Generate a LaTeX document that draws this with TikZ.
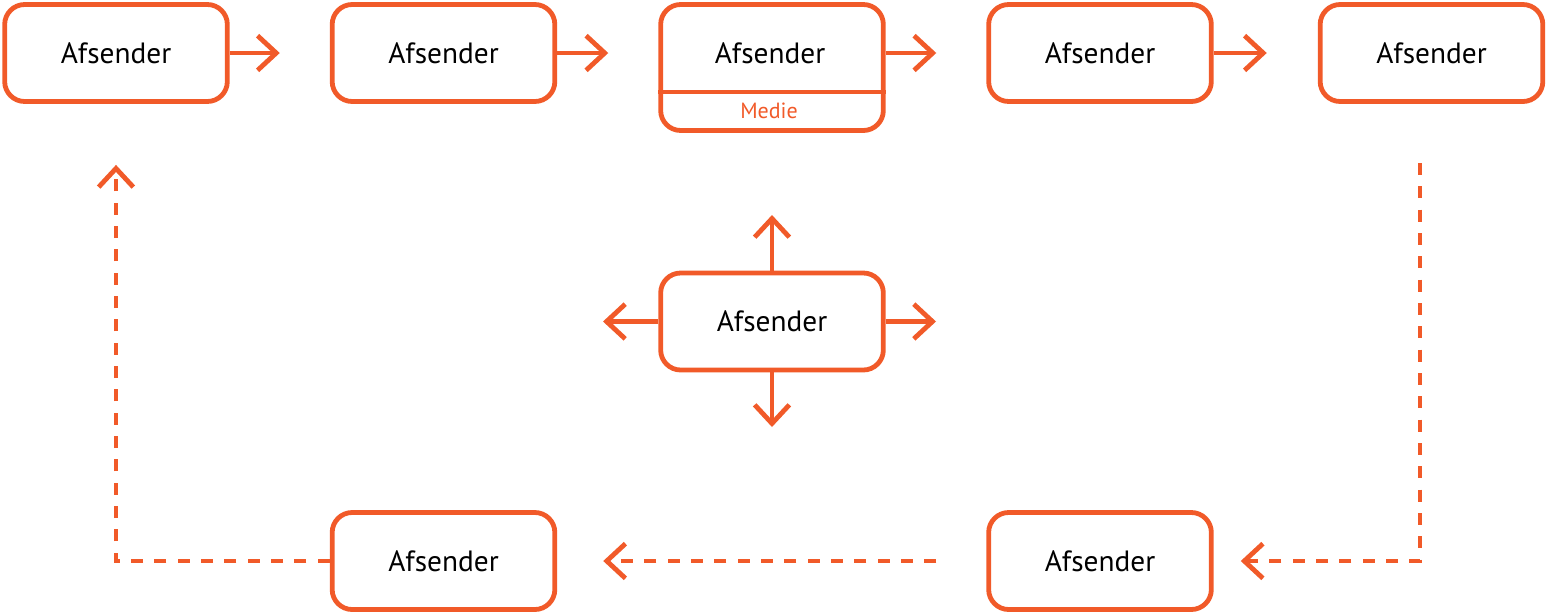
\documentclass[tikz,border=0pt]{standalone}
\usepackage{fontspec}
\setmainfont{PT Sans}
\usetikzlibrary{arrows.meta}
\definecolor{org}{RGB}{241,90,41}
\begin{document}
\begin{tikzpicture}[x=0.75pt,y=-0.75pt,
  box/.style={draw=org, line width=3.6pt, rounded corners=15pt, minimum width=167pt,
    minimum height=72.75pt, inner sep=0pt, font=\fontsize{22}{26}\selectfont, text=black},
  lbl/.style={inner sep=0pt, font=\fontsize{22}{26}\selectfont, text=black},
  medie/.style={inner sep=0pt, font=\fontsize{16.5}{19}\selectfont, text=org},
  conn/.style={draw=org, line width=3.6pt, -{Straight Barb[length=14pt,width=26pt,sharp]}},
  dsh/.style={conn, dash pattern=on 9pt off 8.5pt},
]
\useasboundingbox (0,0) rectangle (1547,615);
% top row
\node[box] (b1) at (116,53) {Afsender};
\node[box] (b2) at (443.5,53) {Afsender};
\node[box, minimum height=94.5pt] (m3) at (772,67.5) {};
\node[lbl] (t3) at (770,53) {Afsender};
\node[medie] (t3m) at (769,111) {Medie};
\coordinate (dv) at (0,92);
\draw[org, line width=3.6pt] (m3.west |- dv) -- (m3.east |- dv);
\node[box] (b4) at (1100,53) {Afsender};
\node[box] (b5) at (1431.5,53) {Afsender};
% middle
\node[box] (mid) at (772,321.5) {Afsender};
% bottom
\node[box] (bbl) at (443.5,561) {Afsender};
\node[box] (bbr) at (1100,561) {Afsender};
% top arrows
\draw[conn, shorten >=37.5pt] (b1) -- (b2);
\draw[conn, shorten >=37.5pt] (b2.east) -- (m3.west |- b2.east);
\draw[conn, shorten >=37.5pt] (m3.east |- b4.west) -- (b4.west);
\draw[conn, shorten >=38.25pt] (b4) -- (b5);
% middle arrows
\coordinate (up) at (772,215);
\coordinate (dn) at (772,427);
\coordinate (lf) at (603,321.5);
\coordinate (rt) at (936,321.5);
\draw[conn] (mid) -- (up);
\draw[conn] (mid) -- (dn);
\draw[conn] (mid) -- (lf);
\draw[conn] (mid) -- (rt);
% dashed loop
\coordinate (r0) at (1420,163);
\draw[dsh, shorten >=20.25pt] (r0) |- (bbr.east);
\draw[dsh, shorten <=37.5pt, shorten >=34.5pt] (bbr) -- (bbl);
\draw[dsh, shorten >=45.75pt] (bbl.west) -| (b1.south);
\end{tikzpicture}
\end{document}
